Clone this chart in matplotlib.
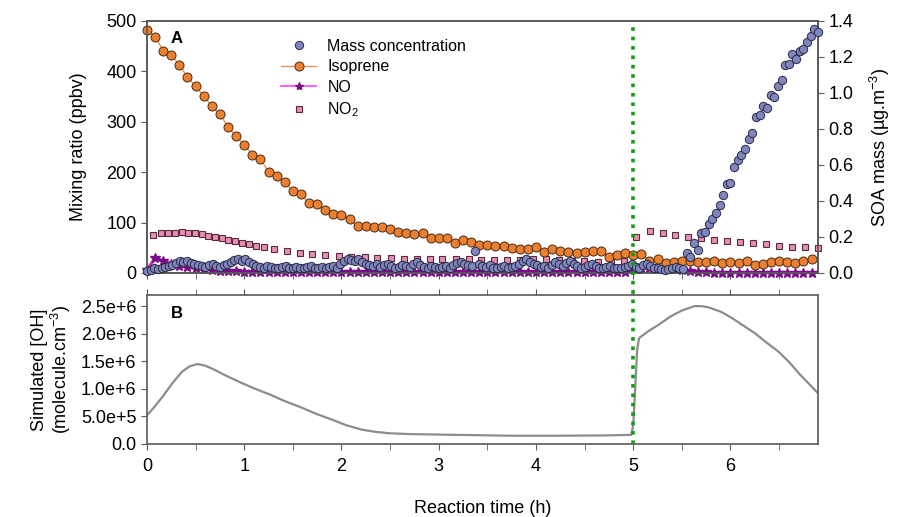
import numpy as np
import matplotlib
matplotlib.use("Agg")
import matplotlib.pyplot as plt
from matplotlib.lines import Line2D
from matplotlib.ticker import MultipleLocator

plt.rcParams.update({
    "font.family": ["Liberation Sans", "DejaVu Sans"],
    "mathtext.fontset": "custom",
    "mathtext.rm": "Liberation Sans",
    "mathtext.it": "Liberation Sans:italic",
    "font.size": 12,
})

# ---- panel A data ----
# isoprene, 5-min sampling (ppbv)
iso_time = np.arange(83) * 5 / 60
isoprene = [482, 469, 441, 432, 413, 388, 371, 351, 331, 315,
            290, 272, 254, 235, 226, 201, 192, 180, 163, 157,
            138, 137, 125, 118, 115, 107, 93, 93, 92, 91,
            87, 82, 80, 77, 80, 69, 69, 69, 60, 65,
            62, 56, 56, 54, 54, 49, 47, 47, 52, 42,
            47, 44, 41, 39, 41, 44, 44, 31, 36, 39,
            36, 37, 24, 27, 20, 21, 24, 24, 21, 21,
            24, 19, 21, 20, 24, 15, 17, 21, 24, 21,
            19, 24, 28]

# NO on same grid (ppbv)
no_vals = [6, 30, 24, 18, 14, 11, 9, 7, 5.5, 4.5,
           3.5, 3, 2.6, 2.3, 2.2, 2.1, 2, 2, 2, 2,
           2, 2, 2, 2, 2, 2, 2, 2, 2, 2,
           2, 2, 2, 2, 2, 2, 2, 2, 2, 2,
           2, 2, 2, 2, 2, 2, 2, 2, 2, 2,
           2, 2, 2, 2, 2, 2, 2, 2, 2, 2,
           10, 10.5, 10, 9.5, 8.5, 7, 5, 3.5, 2, 1.2,
           0.8, 0.6, 0.5, 0.5, 0.5, 0.5, 0.5, 0.5, 0.5, 0.5,
           0.5, 0.5, 0.5]

# NO2 (ppbv)
no2_time = [0.065, 0.141, 0.220, 0.289, 0.358, 0.426, 0.495, 0.564, 0.632, 0.701,
            0.770, 0.838, 0.907, 0.976, 1.044, 1.124, 1.199,
            1.302, 1.440, 1.570, 1.698, 1.835, 1.972, 2.100, 2.237, 2.368, 2.505,
            2.642, 2.773, 2.910, 3.038, 3.175, 3.312, 3.433, 3.570, 3.701, 3.838,
            3.966, 4.103, 4.240, 4.368, 4.498, 4.636, 4.773, 4.910, 5.031, 5.168,
            5.306, 5.433, 5.564, 5.694, 5.832, 5.966, 6.096, 6.234, 6.364, 6.502,
            6.636, 6.766, 6.895]
no2_vals = [75.4, 78.8, 80, 80, 80.8, 80, 78.8, 76.8, 73.4, 70.8,
            68.8, 65.5, 62.9, 60.1, 57.5, 54.2, 51.2,
            47.6, 44.2, 40.3, 37.7, 35.7, 33.7, 32.3, 31.2, 29.2, 29.2,
            27.8, 27.2, 27.2, 27.2, 27.2, 27.2, 25.8, 25.8, 25.8, 25.8,
            27.2, 27.2, 25.8, 24.5, 23.1, 22.5, 21.8, 24.5, 72, 83.3,
            80, 76, 72, 68.8, 65.5, 64.1, 62.1, 60.1, 57.5, 54.2,
            52.2, 52.2, 50.2]

# SOA mass concentration (ug m-3)
mass_time = np.arange(185) * 0.0375
mass_vals = [0.012, 0.018, 0.025, 0.02, 0.03, 0.035, 0.04, 0.045, 0.055, 0.065,
             0.06, 0.065, 0.055, 0.05, 0.045, 0.04, 0.035, 0.045, 0.05, 0.04,
             0.035, 0.045, 0.05, 0.06, 0.07, 0.08, 0.065, 0.075, 0.06, 0.05,
             0.04, 0.035, 0.03, 0.04, 0.035, 0.03, 0.025, 0.035, 0.04, 0.03,
             0.03, 0.035, 0.025, 0.03, 0.035, 0.04, 0.03, 0.025, 0.035, 0.03,
             0.035, 0.04, 0.03, 0.05, 0.065, 0.075, 0.07, 0.065, 0.075, 0.06,
             0.05, 0.045, 0.04, 0.05, 0.035, 0.045, 0.05, 0.04, 0.03, 0.035,
             0.045, 0.04, 0.035, 0.05, 0.06, 0.045, 0.035, 0.03, 0.04, 0.035,
             0.03, 0.035, 0.04, 0.03, 0.045, 0.055, 0.06, 0.05, 0.045, 0.04,
             0.12, 0.05, 0.04, 0.035, 0.045, 0.03, 0.025, 0.035, 0.04, 0.03,
             0.035, 0.04, 0.05, 0.065, 0.075, 0.06, 0.05, 0.045, 0.035, 0.04,
             0.03, 0.045, 0.06, 0.05, 0.04, 0.055, 0.065, 0.05, 0.04, 0.03,
             0.035, 0.045, 0.05, 0.04, 0.03, 0.025, 0.035, 0.04, 0.03, 0.025,
             0.03, 0.035, 0.04, 0.05, 0.035, 0.03, 0.045, 0.05, 0.04, 0.03,
             0.025, 0.02, 0.015, 0.02, 0.03, 0.035, 0.025, 0.02,
             0.109, 0.087, 0.165, 0.128, 0.22, 0.23, 0.272, 0.298, 0.335, 0.378,
             0.433, 0.494, 0.502, 0.59, 0.628, 0.656, 0.687, 0.743, 0.776, 0.869,
             0.878, 0.928, 0.915, 0.989, 0.98, 1.039, 1.072, 1.156, 1.161, 1.217,
             1.187, 1.235, 1.243, 1.285, 1.317, 1.354, 1.341]

# ---- panel B data: simulated OH (molecule cm-3) ----
oh_time = [0, 0.08, 0.17, 0.26, 0.36, 0.44, 0.52, 0.6, 0.69, 0.8,
           0.97, 1.1, 1.26, 1.4, 1.59, 1.75, 1.92, 2.05, 2.21, 2.35,
           2.49, 2.7, 3.02, 3.4, 3.73, 4.2, 4.68, 4.98, 5.0, 5.02,
           5.04, 5.06, 5.15, 5.25, 5.39, 5.5, 5.63, 5.7, 5.77, 5.9,
           6.01, 6.13, 6.25, 6.37, 6.49, 6.6, 6.72, 6.83, 6.9]
oh_vals = np.array([5.2, 6.8, 8.8, 11.0, 13.1, 14.1, 14.5, 14.2, 13.5, 12.5,
                    11.1, 10.1, 9.0, 7.9, 6.6, 5.4, 4.3, 3.4, 2.6, 2.2,
                    1.95, 1.8, 1.7, 1.6, 1.5, 1.5, 1.55, 1.65, 3.5, 10,
                    17, 19.2, 20.4, 21.5, 23.2, 24.2, 25.0, 25.0, 24.8, 24.0,
                    22.9, 21.5, 20.1, 18.4, 16.8, 14.9, 12.5, 10.5, 9.2]) * 1e5

LIGHT_OFF = 5.0
SPINE = "#5a5a5a"

fig = plt.figure(figsize=(9, 5.17), dpi=100)
axA = fig.add_axes([0.1633, 0.472, 0.7456, 0.4874])
axB = fig.add_axes([0.1633, 0.1412, 0.7456, 0.288])
axA2 = axA.twinx()

# panel A
axA.plot(no2_time, no2_vals, ls="none", marker="s", ms=4.8, mfc="#e68fb2",
         mec="#5a2a40", mew=0.8, clip_on=False, zorder=3)
axA.plot(iso_time, no_vals, color="#c030c0", lw=2.2, marker="*", ms=7,
         mfc="#7a0a8a", mec="#7a0a8a", clip_on=False, zorder=4)
axA.plot(iso_time, isoprene, color="#e8935a", lw=1.0, marker="o", ms=6.5,
         mfc="#ec8030", mec="#4a2a10", mew=0.7, clip_on=False, zorder=5)
axA2.plot(mass_time, mass_vals, ls="none", marker="o", ms=6, mfc="#7e86bd",
          mec="#2a2a45", mew=0.7, clip_on=False, zorder=5)

axA.set_xlim(0, 6.9)
axA.set_ylim(0, 500)
axA2.set_ylim(0, 1.4)
axA.yaxis.set_major_locator(MultipleLocator(100))
axA2.yaxis.set_major_locator(MultipleLocator(0.2))
axA2.yaxis.set_major_formatter(plt.FormatStrFormatter("%.1f"))
axA.xaxis.set_major_locator(MultipleLocator(1))
axA.xaxis.set_minor_locator(MultipleLocator(0.5))
axA.tick_params(axis="x", which="both", direction="out", labelbottom=False,
                length=4, color=SPINE)
axA.tick_params(axis="y", direction="out", length=4, labelsize=13, color=SPINE)
axA2.tick_params(axis="y", direction="out", length=4, labelsize=13, color=SPINE)
axA.set_ylabel("Mixing ratio (ppbv)", fontsize=13, labelpad=14)
axA2.set_ylabel("SOA mass (µg.m$^{-3}$)", fontsize=13, labelpad=10)
axA.text(0.035, 0.96, "A", transform=axA.transAxes, fontsize=12,
         fontweight="bold", va="top")

handles = [
    Line2D([], [], ls="none", marker="o", ms=6, mfc="#7e86bd", mec="#2a2a45", mew=0.7),
    Line2D([], [], color="#e8935a", lw=1.0, marker="o", ms=6.5, mfc="#ec8030",
           mec="#4a2a10", mew=0.7),
    Line2D([], [], color="#ff40ff", lw=1.2, marker="*", ms=6, mfc="#7a0a8a", mec="#7a0a8a"),
    Line2D([], [], ls="none", marker="s", ms=4.8, mfc="#e68fb2", mec="#5a2a40", mew=0.8),
]
labels = ["Mass concentration", "Isoprene", "NO", "NO$_2$"]
axA2.legend(handles, labels, loc="upper left", bbox_to_anchor=(0.2, 0.93),
            frameon=False, fontsize=11.5, handlelength=2.2, handletextpad=0.7,
            labelspacing=0.35, borderpad=0, borderaxespad=0)

# panel B
axB.plot(oh_time, oh_vals, color="#8c8c8c", lw=1.6)
axB.set_xlim(0, 6.9)
axB.set_ylim(0, 2.7e6)
axB.set_yticks([0, 5e5, 1e6, 1.5e6, 2e6, 2.5e6])
axB.set_yticklabels(["0.0", "5.0e+5", "1.0e+6", "1.5e+6", "2.0e+6", "2.5e+6"])
axB.xaxis.set_major_locator(MultipleLocator(1))
axB.xaxis.set_minor_locator(MultipleLocator(0.5))
axB.tick_params(axis="x", which="both", direction="out", top=True, length=4,
                labelsize=13, color=SPINE, pad=6)
axB.tick_params(axis="y", direction="out", length=4, labelsize=13, color=SPINE)
axB.set_xlabel("Reaction time (h)", fontsize=13, labelpad=18)
axB.set_ylabel("Simulated [OH]\n(molecule.cm$^{-3}$)", fontsize=13, labelpad=6,
               linespacing=1.0)
axB.text(0.035, 0.93, "B", transform=axB.transAxes, fontsize=12,
         fontweight="bold", va="top")

for ax in (axA, axA2, axB):
    for s in ax.spines.values():
        s.set_color(SPINE)
        s.set_linewidth(1.2)

# light-off marker spanning both panels
xf = fig.transFigure.inverted().transform(axA.transData.transform((LIGHT_OFF, 0)))[0]
y_lo = axB.get_position().y0
y_hi = axA.get_position().y1
fig.add_artist(Line2D([xf, xf], [y_lo, y_hi], transform=fig.transFigure,
                      color="#189a18", lw=2.6, ls=(0, (1, 1.6)), zorder=10))

fig.savefig("out.png", dpi=100)
